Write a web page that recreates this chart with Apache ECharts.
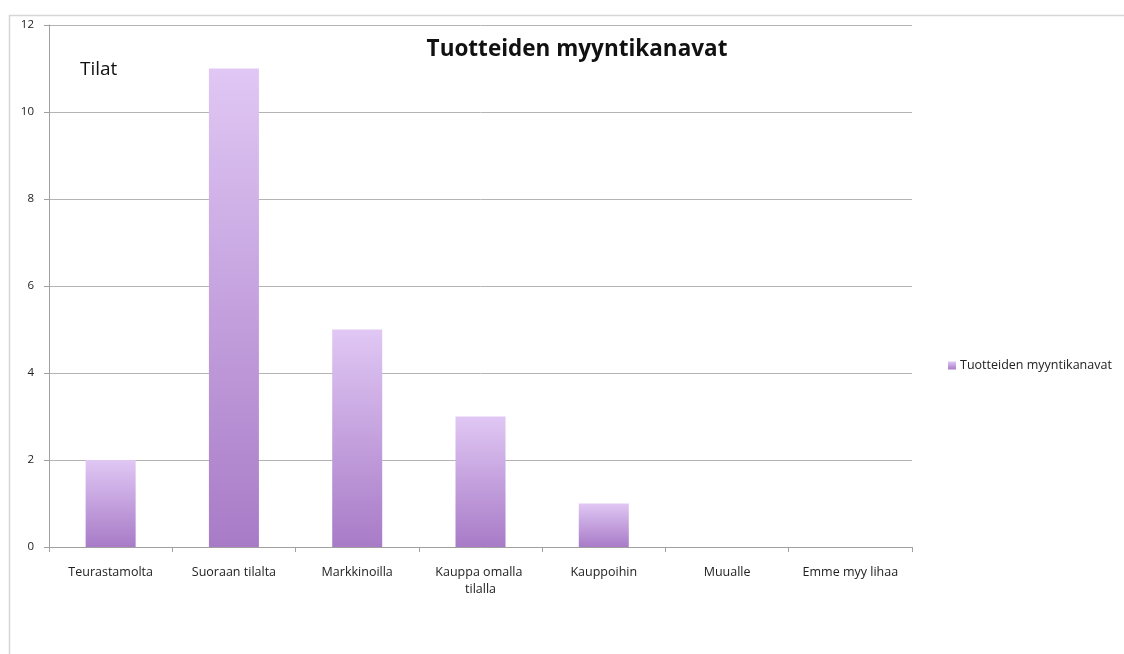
<!DOCTYPE html>
<html>
<head>
<meta charset="utf-8">
<script src="https://cdn.jsdelivr.net/npm/echarts@6/dist/echarts.min.js"></script>
<style>
  html, body { margin: 0; padding: 0; background: #fff; }
  #chart { width: 1124px; height: 654px; }
</style>
</head>
<body>
<div id="chart"></div>
<script>
const categories = ['Teurastamolta', 'Suoraan tilalta', 'Markkinoilla', 'Kauppa omalla tilalla', 'Kauppoihin', 'Muualle', 'Emme myy lihaa'];
const counts = [2, 11, 5, 3, 1, 0, 0];
const seriesName = 'Tuotteiden myyntikanavat';
const yTicks = { min: 0, max: 12, interval: 2 };

document.addEventListener('DOMContentLoaded', function () {
    const chart = echarts.init(document.getElementById('chart'));
    const font = '"Open Sans", Lato, sans-serif';

    chart.setOption({
        animation: false,
        textStyle: { fontFamily: font },
        graphic: [
            {
                type: 'rect',
                shape: { x: 9.5, y: 15.5, width: 1300, height: 800 },
                style: { fill: null, stroke: '#d6d6d6', lineWidth: 1.5 },
                silent: true
            }
        ],
        title: [
            {
                text: seriesName,
                left: 572,
                top: 33,
                textAlign: 'center',
                textStyle: { fontFamily: font, fontSize: 22.5, fontWeight: 'bold', color: '#111' }
            },
            {
                text: 'Tilat',
                left: 75,
                top: 55,
                textStyle: { fontFamily: font, fontSize: 19, fontWeight: 'normal', color: '#111' }
            }
        ],
        legend: {
            data: [seriesName],
            left: 943,
            top: 354,
            icon: 'rect',
            itemWidth: 8,
            itemHeight: 8,
            itemGap: 4,
            textStyle: { fontFamily: font, fontSize: 12.5, color: '#222', padding: [0, 0, 0, -1] }
        },
        grid: { left: 49, right: 212, top: 25, bottom: 107, containLabel: false },
        xAxis: {
            type: 'category',
            data: categories,
            boundaryGap: true,
            axisLine: { lineStyle: { color: '#a0a0a0', width: 1 } },
            axisTick: { show: true, alignWithLabel: false, length: 5, lineStyle: { color: '#a0a0a0' } },
            axisLabel: {
                interval: 0,
                margin: 17,
                fontFamily: font,
                fontSize: 12.5,
                color: '#222',
                width: 112,
                overflow: 'break',
                lineHeight: 17
            }
        },
        yAxis: {
            type: 'value',
            min: yTicks.min,
            max: yTicks.max,
            interval: yTicks.interval,
            axisLine: { show: true, lineStyle: { color: '#a0a0a0', width: 1 } },
            axisTick: { show: true, length: 5, lineStyle: { color: '#a0a0a0' } },
            axisLabel: { margin: 15, fontFamily: font, fontSize: 11.5, color: '#222' },
            splitLine: { lineStyle: { color: '#b4b4b4', width: 1 } }
        },
        series: [
            {
                name: seriesName,
                type: 'bar',
                data: counts,
                barWidth: 50,
                itemStyle: {
                    color: new echarts.graphic.LinearGradient(0, 0, 0, 1, [
                        { offset: 0, color: '#e0c7f4' },
                        { offset: 1, color: '#a87bc7' }
                    ])
                }
            }
        ]
    });
});
</script>
</body>
</html>
